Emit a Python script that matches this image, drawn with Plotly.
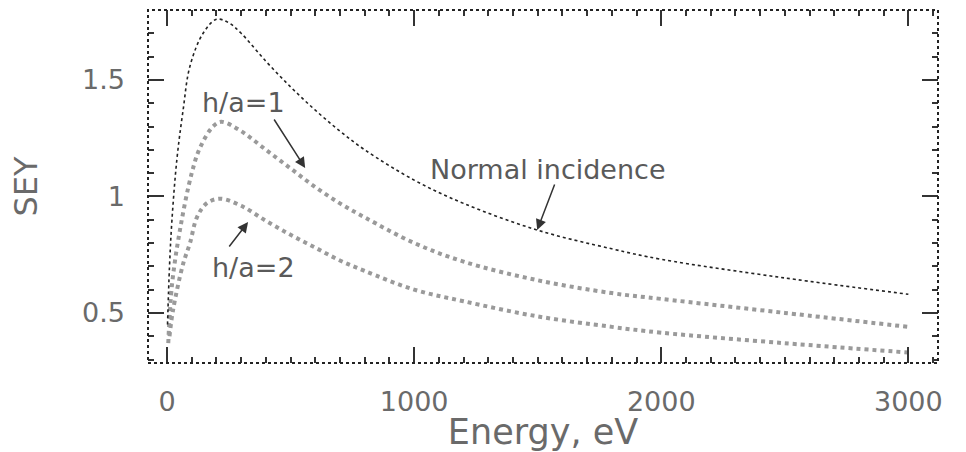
import plotly.graph_objects as go

# Energy grid (eV) and SEY values
energy_normal = [2, 10, 20, 40, 65, 93, 146, 200, 250, 300, 400, 500, 600, 700, 800,
                 1000, 1200, 1500, 1800, 2000, 2500, 3000]
sey_normal = [0.45, 0.70, 0.90, 1.16, 1.37, 1.56, 1.70, 1.76, 1.745, 1.70, 1.58, 1.47,
              1.37, 1.28, 1.20, 1.07, 0.97, 0.855, 0.775, 0.73, 0.65, 0.58]

energy_h1 = [5, 20, 53, 100, 134, 186, 220, 300, 400, 500, 600, 700, 800,
             1000, 1200, 1500, 1800, 2000, 2500, 3000]
sey_h1 = [0.37, 0.62, 0.86, 1.10, 1.21, 1.30, 1.32, 1.28, 1.20, 1.12, 1.04, 0.97, 0.91,
          0.80, 0.72, 0.64, 0.585, 0.56, 0.50, 0.44]

energy_h2 = [10, 24, 65, 93, 121, 160, 215, 300, 400, 500, 600, 700, 800,
             1000, 1200, 1500, 1800, 2000, 2500, 3000]
sey_h2 = [0.40, 0.51, 0.71, 0.80, 0.91, 0.97, 0.99, 0.96, 0.895, 0.835, 0.78, 0.725, 0.68,
          0.60, 0.55, 0.485, 0.44, 0.415, 0.37, 0.33]

x_ticks = [0, 1000, 2000, 3000]
y_ticks = [0.5, 1, 1.5]
y_ticklabels = ["0.5", "1", "1.5"]

FONT = "DejaVu Sans"
TXT = "#6a6a6a"

fig = go.Figure()
fig.add_trace(go.Scatter(x=energy_h2, y=sey_h2, mode="lines", line_shape="spline",
                         line=dict(color="#9a9a9a", width=4, dash="dot"), showlegend=False))
fig.add_trace(go.Scatter(x=energy_h1, y=sey_h1, mode="lines", line_shape="spline",
                         line=dict(color="#9a9a9a", width=4, dash="dot"), showlegend=False))
fig.add_trace(go.Scatter(x=energy_normal, y=sey_normal, mode="lines", line_shape="spline",
                         line=dict(color="#222222", width=1.6, dash="dot"), showlegend=False))

axis_common = dict(showgrid=False, zeroline=False, showline=False, mirror="ticks",
                   ticks="inside", tickcolor="#333", tickwidth=1.5,
                   tickfont=dict(family=FONT, size=27, color=TXT))

fig.update_xaxes(range=[-77, 3120], tickvals=x_ticks, ticklen=16, ticklabelstandoff=20,
                 minor=dict(dtick=100, ticks="inside", ticklen=6, tickcolor="#333"),
                 title=dict(text="Energy, eV", font=dict(family=FONT, size=35, color=TXT),
                            standoff=0),
                 **axis_common)
fig.update_yaxes(range=[0.285, 1.80], tickvals=y_ticks, ticktext=y_ticklabels, ticklen=16,
                 ticklabelstandoff=22,
                 minor=dict(dtick=0.1, ticks="inside", ticklen=6, tickcolor="#333"),
                 title=dict(text="SEY", font=dict(family=FONT, size=32, color=TXT),
                            standoff=34),
                 **axis_common)

fig.add_shape(type="rect", xref="paper", yref="paper", x0=0, y0=0, x1=1, y1=1,
              line=dict(color="#222", width=2, dash="dot"))

ann_font = dict(family=FONT, size=27, color="#5a5a5a")
fig.add_annotation(x=308, y=1.405, text="h/a=1", showarrow=False, font=ann_font)
fig.add_annotation(x=559, y=1.122, ax=-32, ay=-50, text="", showarrow=True,
                   arrowhead=2, arrowsize=1.4, arrowwidth=1.5, arrowcolor="#333")
fig.add_annotation(x=1543, y=1.114, text="Normal incidence", showarrow=False, font=ann_font)
fig.add_annotation(x=1498, y=0.856, ax=18, ay=-47, text="", showarrow=True,
                   arrowhead=2, arrowsize=1.4, arrowwidth=1.5, arrowcolor="#333")
fig.add_annotation(x=348, y=0.697, text="h/a=2", showarrow=False, font=ann_font)
fig.add_annotation(x=328, y=0.89, ax=-20, ay=26, text="", showarrow=True,
                   arrowhead=2, arrowsize=1.4, arrowwidth=1.5, arrowcolor="#333")

fig.update_layout(width=966, height=452, margin=dict(l=148, r=28, t=10, b=89),
                  plot_bgcolor="white", paper_bgcolor="white")

fig.write_html("out.html")
